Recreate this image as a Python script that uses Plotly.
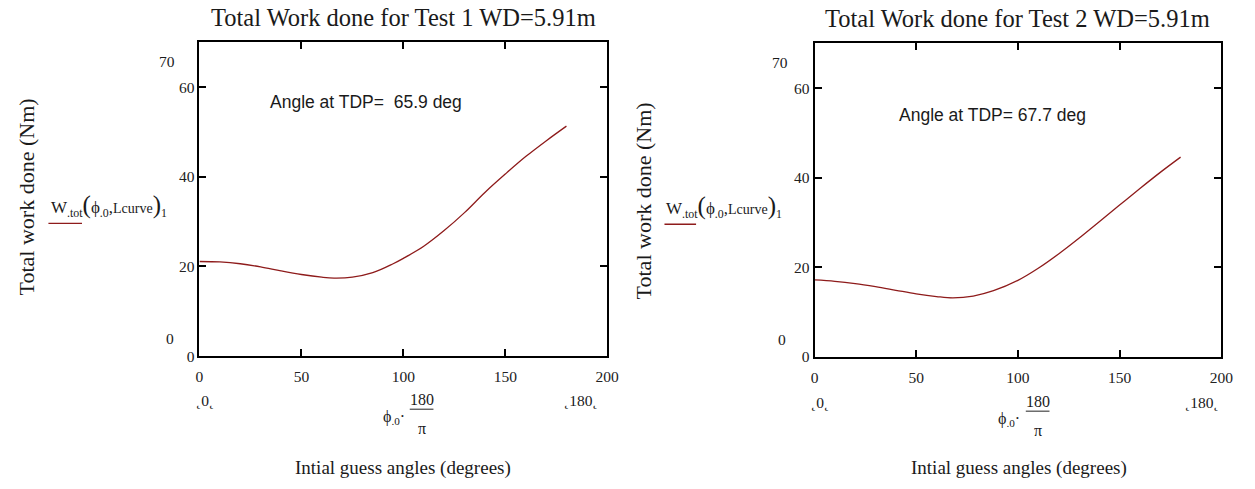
import numpy as np
import plotly.graph_objects as go

# Initial guess angle (degrees) and total work done (Nm) for the two tests
angles = [0, 10, 20, 30, 40, 50, 60, 66, 75, 85, 95, 100, 110, 120, 130, 140, 150, 160, 170, 180]
work_test1 = [21.1, 21.0, 20.6, 19.9, 19.0, 18.2, 17.6, 17.4, 17.6, 18.6, 20.6, 21.8,
              24.5, 28.0, 32.0, 36.5, 40.6, 44.5, 48.0, 51.3]

angles2 = [0, 10, 20, 30, 40, 50, 60, 68, 78, 88, 100, 110, 120, 130, 140, 150, 160, 170, 180]
work_test2 = [17.2, 16.9, 16.4, 15.7, 14.9, 14.1, 13.5, 13.2, 13.6, 14.8, 17.1, 19.8,
              23.0, 26.5, 30.2, 33.9, 37.6, 41.2, 44.6]

titles = ["Total Work done for Test 1 WD=5.91m", "Total Work done for Test 2 WD=5.91m"]
tdp_notes = ["Angle at TDP=  65.9 deg", "Angle at TDP= 67.7 deg"]
x_range = [0, 200]
y_range = [0, 70]
x_limits = ["0", "180"]
y_limits = ["70", "0"]

W, H = 1255, 489
SERIF = "Liberation Serif, Times New Roman, serif"
SANS = "Liberation Sans, Arial, sans-serif"
CURVE = "#8e1b1b"


def px(x, y):
    """Pixel position -> paper coordinates."""
    return x / W, 1 - y / H


fig = go.Figure()
fig.add_trace(go.Scatter(x=angles, y=work_test1, mode="lines", xaxis="x", yaxis="y",
                         line=dict(color=CURVE, width=1.3, shape="spline"), showlegend=False))
fig.add_trace(go.Scatter(x=angles2, y=work_test2, mode="lines", xaxis="x2", yaxis="y2",
                         line=dict(color=CURVE, width=1.3, shape="spline"), showlegend=False))

axis_common = dict(showline=True, linecolor="black", linewidth=2, mirror="ticks",
                   ticks="inside", ticklen=7, tickwidth=2, tickcolor="black",
                   showgrid=False, zeroline=False,
                   tickfont=dict(family=SERIF, size=15.5, color="#222"))

# panel frames in pixels: (left, top, right, bottom)
frames = [(198, 43, 611, 362), (821, 44, 1233, 363)]
layout = dict(width=W, height=H, margin=dict(l=0, r=0, t=0, b=0),
              paper_bgcolor="white", plot_bgcolor="white", showlegend=False)
for i, (l, t, r, b) in enumerate(frames):
    sfx = "" if i == 0 else str(i + 1)
    layout["xaxis" + sfx] = dict(axis_common, domain=[l / W, r / W], range=x_range, dtick=50,
                                 anchor="y" + sfx, ticklabelstandoff=5)
    layout["yaxis" + sfx] = dict(axis_common, domain=[1 - b / H, 1 - t / H], range=y_range,
                                 tick0=0, dtick=20, anchor="x" + sfx, ticklabelstandoff=0)
fig.update_layout(**layout)

ann = []
shapes = []


def text(x, y, s, size, family=SERIF, xanchor="center", **kw):
    xp, yp = px(x, y)
    ann.append(dict(x=xp, y=yp, xref="paper", yref="paper", text=s, showarrow=False,
                    xanchor=xanchor, yanchor="middle",
                    font=dict(family=family, size=size, color="#1a1a1a"), **kw))


legend_html = ("W<sub>.tot</sub><span style='font-size:25px'>(</span>ϕ<sub>.0</sub>,"
               "<span style='font-size:14px'>Lcurve</span><span style='font-size:25px'>)</span><sub>1</sub>")

panels = [
    dict(title=(405, 18), note=(367, 104), ytitle=(23, 200), leg=(46, 209), legline=(45, 79, 227),
         lim70=(165, 63), lim0=(168, 344), xl0=(204, 407), xl180=(584, 407),
         phi=(395, 424), frac=(423, 406, 416, 436), xtitle=(404, 476)),
    dict(title=(1027, 19), note=(1001, 117), ytitle=(648, 204), leg=(669, 210), legline=(669, 701, 228),
         lim70=(786, 64), lim0=(788, 345), xl0=(827, 409), xl180=(1213, 409),
         phi=(1018, 426), frac=(1047, 408, 418, 438), xtitle=(1028, 476)),
]

for i, p in enumerate(panels):
    text(*p["title"], titles[i], 24.5)
    text(*p["note"], tdp_notes[i], 17.5, family=SANS)
    text(*p["ytitle"], "Total work done (Nm)", 22, textangle=-90)
    text(*p["leg"], legend_html, 17, xanchor="left")
    x0, x1, yl = p["legline"]
    a, b_ = px(x0, yl)
    c, _ = px(x1, yl)
    shapes.append(dict(type="line", xref="paper", yref="paper", x0=a, x1=c, y0=b_, y1=b_,
                       line=dict(color=CURVE, width=1.3)))
    text(*p["lim70"], y_limits[0], 15.5)
    text(*p["lim0"], y_limits[1], 15.5)
    text(*p["xl0"], "˛" + x_limits[0] + "˛", 15.5)
    text(*p["xl180"], "˛" + x_limits[1] + "˛", 15.5)
    text(*p["phi"], "ϕ<sub>.0</sub>·", 16)
    fx, fy_num, fy_line, fy_den = p["frac"]
    text(fx, fy_num, "180", 16)
    text(fx, fy_den, "π", 16)
    a, yy = px(fx - 12, fy_line)
    c, _ = px(fx + 12, fy_line)
    shapes.append(dict(type="line", xref="paper", yref="paper", x0=a, x1=c, y0=yy, y1=yy,
                       line=dict(color="#222", width=1)))
    text(*p["xtitle"], "Intial guess angles (degrees)", 19)

fig.update_layout(annotations=ann, shapes=shapes)
fig.write_html("out.html")
